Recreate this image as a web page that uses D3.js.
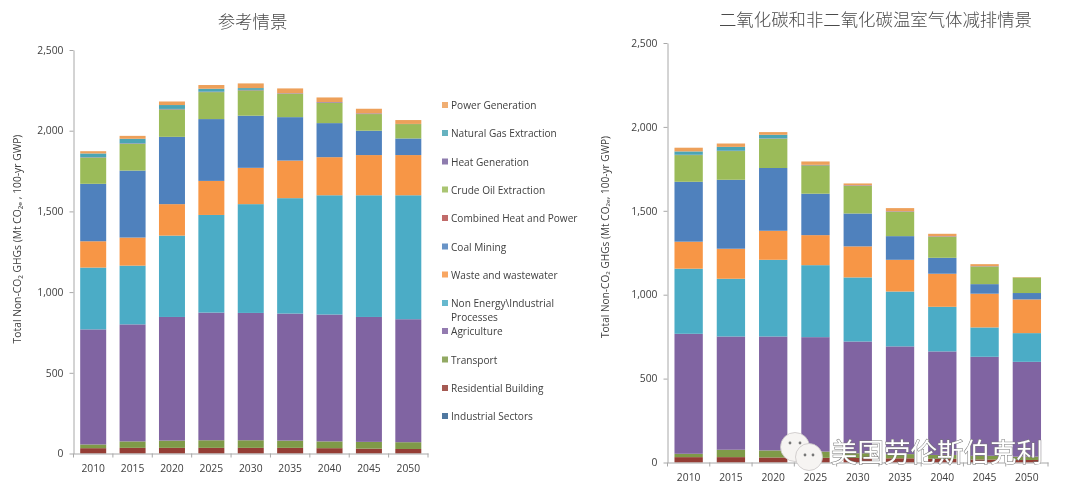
<!DOCTYPE html>
<html><head><meta charset="utf-8">
<script src="https://cdn.jsdelivr.net/npm/d3@7"></script>
<style>
html,body{margin:0;padding:0;background:#fff}
svg{display:block;filter:blur(0.45px)}
text{font-family:"Open Sans","Noto Sans",sans-serif;fill:#404040}
.title{font-family:"Noto Sans CJK SC";font-weight:300;font-size:17.4px;fill:#4a4a4a}
.tick text{font-size:10.3px;fill:#404040}
.domain,.tick line{stroke:#a8a8a8}
</style></head><body>
<svg id="c" width="1080" height="501"></svg>
<script>
const years=["2010","2015","2020","2025","2030","2035","2040","2045","2050"];
const yTicks=[0,500,1000,1500,2000,2500];
const seriesNames=["Industrial Sectors","Residential Building","Transport","Agriculture","Non Energy\\Industrial Processes","Waste and wastewater","Coal Mining","Combined Heat and Power","Crude Oil Extraction","Heat Generation","Natural Gas Extraction","Power Generation"];
const seriesColors=["#31608f","#953d35","#7f9a48","#8064a2","#4bacc6","#f79646","#4f81bd","#b65150","#9bbb59","#7a65a0","#4ba5b5","#eda05a"];

const refIndustrial=[0,0,0,0,0,0,0,0,0];
const refResidential=[33,35,35,35,35,35,33,30,28];
const refTransport=[23,40,45,47,47,45,42,42,42];
const refAgriculture=[713,725,766,791,789,787,786,774,762];
const refNonEnergy=[383,364,504,605,674,715,739,754,768];
const refWaste=[163,174,195,211,225,233,236,249,249];
const refCoal=[356,415,417,383,323,269,211,151,103];
const refCHP=[0,0,0,0,0,0,0,0,0];
const refCrude=[163,166,170,167,157,145,126,103,89];
const refHeat=[2,3,3,3,3,3,4,4,1];
const refGas=[23,28,24,18,11,0,0,0,0];
const refPower=[14,18,22,23,29,30,29,29,24];

const mitIndustrial=[0,0,0,0,0,0,0,0,0];
const mitResidential=[32,32,30,28,27,25,22,18,15];
const mitTransport=[20,44,42,37,28,25,23,22,20];
const mitAgriculture=[715,675,679,682,666,642,617,590,565];
const mitNonEnergy=[388,344,457,429,382,327,266,175,171];
const mitWaste=[161,179,173,179,185,189,197,201,201];
const mitCoal=[357,411,374,247,196,141,95,57,38];
const mitCHP=[0,0,0,0,0,0,0,0,0];
const mitCrude=[159,171,175,169,165,145,125,105,93];
const mitHeat=[2,2,2,3,3,3,3,2,0];
const mitGas=[20,23,21,0,0,0,0,0,0];
const mitPower=[22,20,16,20,11,19,15,12,2];

const refSeries=[refIndustrial,refResidential,refTransport,refAgriculture,refNonEnergy,refWaste,refCoal,refCHP,refCrude,refHeat,refGas,refPower];
const mitSeries=[mitIndustrial,mitResidential,mitTransport,mitAgriculture,mitNonEnergy,mitWaste,mitCoal,mitCHP,mitCrude,mitHeat,mitGas,mitPower];

const svg=d3.select("#c");
const fmt=d3.format(",");

function chart(series,o){
  const x=d3.scaleBand().domain(years).range([o.x0,o.x1]).paddingInner(o.pad).paddingOuter(o.pad/2);
  const y=d3.scaleLinear().domain([0,2500]).range([o.y0,o.y1]);
  const rows=years.map((yr,i)=>{const r={year:yr};seriesNames.forEach((n,k)=>r[n]=series[k][i]);return r;});
  const stacked=d3.stack().keys(seriesNames)(rows);
  const g=svg.append("g");
  g.selectAll("g.s").data(stacked).join("g").attr("class","s")
    .attr("fill",(d,i)=>seriesColors[i])
    .selectAll("rect").data(d=>d).join("rect")
    .attr("x",d=>x(d.data.year)).attr("width",x.bandwidth())
    .attr("y",d=>y(d[1])).attr("height",d=>y(d[0])-y(d[1]));
  g.append("g").attr("transform",`translate(${o.x0},0)`)
    .call(d3.axisLeft(y).tickValues(yTicks).tickFormat(fmt).tickSize(4).tickSizeOuter(0).tickPadding(6));
  const xa=g.append("g").attr("transform",`translate(0,${o.y0})`)
    .call(d3.axisBottom(x).tickSize(0).tickPadding(11));
  xa.selectAll(".tick text").attr("dy","0.71em");
  const step=x.step();
  g.append("g").selectAll("line").data(d3.range(years.length+1)).join("line")
    .attr("x1",i=>o.x0+i*step).attr("x2",i=>o.x0+i*step)
    .attr("y1",o.y0).attr("y2",o.y0+4).attr("stroke","#a8a8a8");
  g.append("text").attr("class","title").attr("x",o.tx).attr("y",o.ty).attr("text-anchor","middle").text(o.title);
  g.append("text").attr("transform",`translate(${o.lx},${o.ly}) rotate(-90)`)
    .attr("text-anchor","middle").attr("font-size",o.lf).text(o.label);
}

chart(refSeries,{x0:73.5,x1:428,y0:453.5,y1:50,pad:0.34,tx:252.5,ty:28,lx:21,ly:239,lf:"10.3px",
  title:"参考情景",label:"Total Non-CO₂ GHGs (Mt CO₂ₑ , 100-yr GWP)"});
chart(mitSeries,{x0:667.5,x1:1048,y0:462.5,y1:43,pad:0.33,tx:875.5,ty:26,lx:609,ly:237,lf:"10.1px",
  title:"二氧化碳和非二氧化碳温室气体减排情景",label:"Total Non-CO₂ GHGs (Mt CO₂ₑ, 100-yr GWP)"});

// legend, top to bottom
const legendY=[105,133,161.5,189.5,218,246.5,274.5,303,331,359.5,388,416];
const legendLabels={"Non Energy\\Industrial Processes":["Non Energy\\Industrial","Processes"]};
const legendOrder=seriesNames.slice().reverse();
const leg=svg.append("g").selectAll("g").data(legendOrder).join("g")
  .attr("transform",(d,i)=>`translate(442,${legendY[i]})`);
leg.append("rect").attr("y",-3).attr("width",6).attr("height",6)
  .attr("fill",d=>seriesColors[seriesNames.indexOf(d)]).attr("opacity",0.85);
leg.append("text").attr("x",9).attr("y",4).attr("font-size","10.1px")
  .selectAll("tspan").data(d=>legendLabels[d]||[d]).join("tspan")
  .attr("x",9).attr("dy",(d,i)=>i?14:0).text(d=>d);

// watermark
const wm=svg.append("g");
const bubbles=[[795,447,14.5],[809,457,13.5]];
wm.selectAll("circle").data(bubbles).join("circle")
  .attr("cx",d=>d[0]).attr("cy",d=>d[1]).attr("r",d=>d[2])
  .attr("fill","#f6f4f2").attr("stroke","#c9c5c5").attr("stroke-width",0.8);
wm.selectAll("circle.e").data([[790,443],[800,443],[805,455],[813,455]]).join("circle").attr("class","e")
  .attr("cx",d=>d[0]).attr("cy",d=>d[1]).attr("r",1.4).attr("fill","#777");
wm.append("text").attr("x",831).attr("y",462).attr("font-size","26.5px")
  .style("font-family","'Noto Sans CJK SC'").style("font-weight","400")
  .style("fill","#fff").style("stroke","#777").style("stroke-width","1px").style("paint-order","stroke")
  .text("美国劳伦斯伯克利");
</script>
</body></html>
